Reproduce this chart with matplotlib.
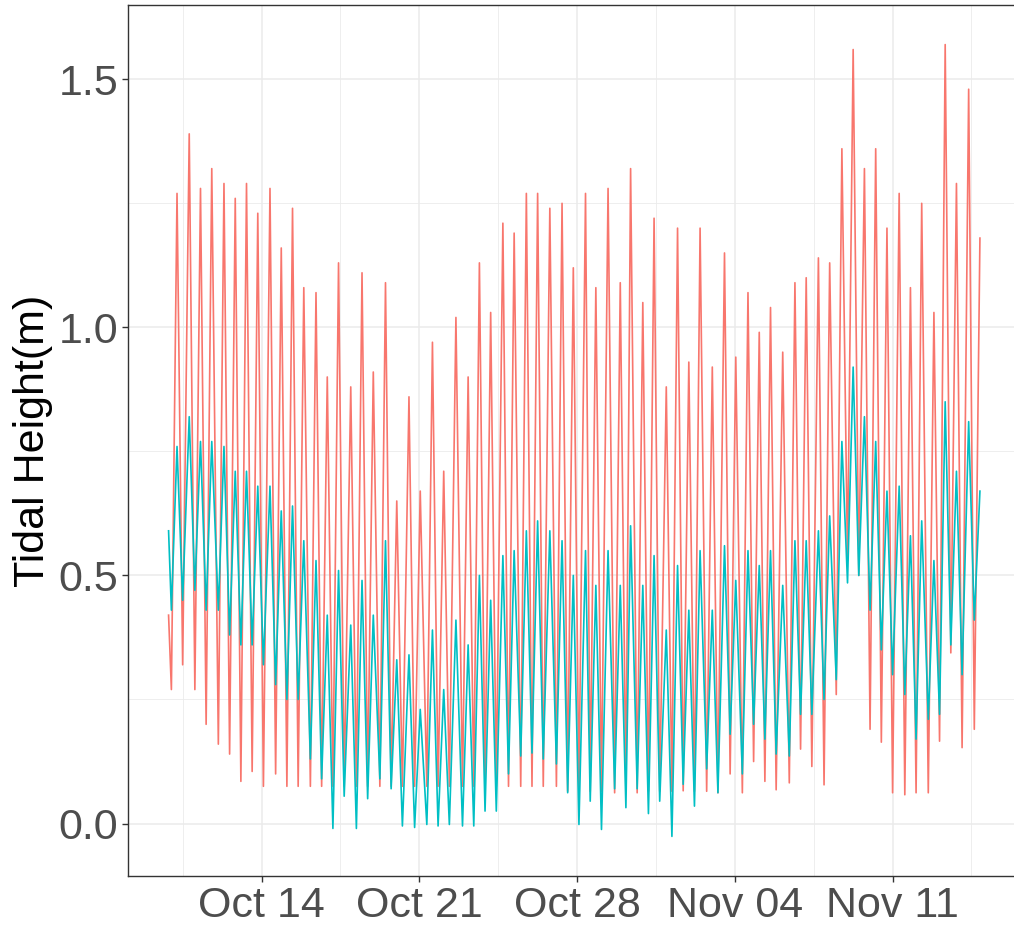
import matplotlib
matplotlib.use("Agg")
import matplotlib.pyplot as plt
import matplotlib.dates as mdates
import pandas as pd

plt.rcParams['font.family'] = ['Liberation Sans', 'DejaVu Sans']

# hours after 2019-10-10 00:00 of each high and low water
peak_hours = [6, 19, 31, 43, 56, 68, 80, 92, 105, 117,
              129, 141, 154, 166, 178, 191, 203, 215, 228, 240,
              253, 265, 278, 290, 303, 316, 328, 340, 353, 365,
              378, 390, 403, 416, 428, 441, 452, 465, 478, 489,
              502, 514, 527, 539, 551, 563, 576, 589, 601, 614,
              626, 638, 651, 664, 676, 689, 701, 714, 726, 738,
              750, 762, 775, 787, 799, 812, 824, 836, 849, 861]
low_hours = [0, 12, 25, 37, 50, 62, 74, 86, 98, 111,
             123, 135, 148, 160, 172, 184, 197, 209, 222, 234,
             246, 259, 272, 284, 296, 310, 322, 334, 346, 359,
             372, 384, 396, 410, 422, 434, 446, 458, 472, 484,
             496, 508, 520, 533, 545, 557, 570, 582, 595, 608,
             620, 632, 644, 658, 670, 682, 695, 708, 720, 732,
             744, 756, 768, 781, 793, 806, 818, 830, 842, 855]
first_hour = -3

# outer gauge (red)
red_first = 0.42
red_high = [1.27, 1.39, 1.28, 1.32, 1.29, 1.26, 1.29, 1.23, 1.28, 1.16,
            1.24, 1.08, 1.07, 0.90, 1.13, 0.88, 1.11, 0.91, 1.09, 0.65,
            0.86, 0.67, 0.97, 0.71, 1.02, 0.90, 1.13, 1.03, 1.21, 1.19,
            1.27, 1.27, 1.24, 1.25, 1.12, 1.27, 1.08, 1.28, 1.09, 1.32,
            1.05, 1.22, 0.88, 1.20, 0.93, 1.20, 0.92, 1.15, 0.94, 1.07,
            0.99, 1.04, 0.95, 1.09, 1.10, 1.14, 1.13, 1.36, 1.56, 1.32,
            1.36, 1.20, 1.27, 1.08, 1.25, 1.03, 1.57, 1.29, 1.48, 1.18]
red_low = [0.27, 0.32, 0.27, 0.20, 0.16, 0.14, 0.085, 0.105, 0.075, 0.10,
           0.075, 0.075, 0.075, 0.075, 0.075, 0.075, 0.075, 0.075, 0.075, 0.075,
           0.075, 0.075, 0.075, 0.075, 0.075, 0.075, 0.075, 0.075, 0.075, 0.075,
           0.075, 0.075, 0.075, 0.075, 0.065, 0.065, 0.065, 0.065, 0.062, 0.065,
           0.062, 0.065, 0.065, 0.065, 0.066, 0.065, 0.065, 0.062, 0.10, 0.062,
           0.125, 0.085, 0.068, 0.082, 0.15, 0.115, 0.078, 0.26, 0.53, 0.50,
           0.19, 0.164, 0.062, 0.058, 0.062, 0.062, 0.166, 0.344, 0.153, 0.19]

# inner gauge (teal)
teal_first = 0.59
teal_high = [0.76, 0.82, 0.77, 0.77, 0.76, 0.71, 0.71, 0.68, 0.68, 0.63,
             0.64, 0.57, 0.53, 0.42, 0.51, 0.40, 0.49, 0.42, 0.57, 0.33,
             0.34, 0.23, 0.39, 0.27, 0.41, 0.36, 0.50, 0.45, 0.54, 0.55,
             0.59, 0.61, 0.59, 0.57, 0.50, 0.55, 0.48, 0.55, 0.48, 0.60,
             0.48, 0.54, 0.39, 0.52, 0.43, 0.55, 0.43, 0.56, 0.49, 0.55,
             0.52, 0.55, 0.48, 0.57, 0.57, 0.59, 0.62, 0.77, 0.92, 0.82,
             0.77, 0.67, 0.68, 0.58, 0.61, 0.53, 0.85, 0.71, 0.81, 0.67]
teal_low = [0.43, 0.45, 0.47, 0.43, 0.43, 0.38, 0.36, 0.36, 0.32, 0.28,
            0.25, 0.25, 0.13, 0.09, -0.01, 0.055, -0.01, 0.05, 0.09, 0.07,
            -0.005, -0.008, -0.002, -0.005, -0.002, -0.005, -0.005, 0.025, 0.025, 0.10,
            0.136, 0.142, 0.13, 0.12, 0.062, -0.002, 0.045, -0.012, 0.07, 0.032,
            0.07, 0.02, 0.045, -0.026, 0.079, 0.035, 0.11, 0.062, 0.18, 0.10,
            0.20, 0.17, 0.14, 0.136, 0.22, 0.22, 0.25, 0.29, 0.485, 0.50,
            0.43, 0.35, 0.30, 0.26, 0.17, 0.21, 0.22, 0.36, 0.30, 0.41]

start = pd.Timestamp("2019-10-10 00:00")


def series(first, lows, highs):
    hours = [first_hour]
    vals = [first]
    for lh, lv, ph, pv in zip(low_hours, lows, peak_hours, highs):
        hours += [lh, ph]
        vals += [lv, pv]
    times = start + pd.to_timedelta(hours, unit="h")
    return times, vals


t, red = series(red_first, red_low, red_high)
_, teal = series(teal_first, teal_low, teal_high)

fig = plt.figure(figsize=(10.14, 9.26), dpi=100)
ax = fig.add_axes([128 / 1014, 50 / 926, 892.5 / 1014, 871 / 926])

ax.plot(t, red, color="#F8766D", lw=1.2)
ax.plot(t, teal, color="#00BFC4", lw=1.2)

# ggplot-style 5% padding
span = t[-1] - t[0]
ax.set_xlim(t[0] - 0.05 * span, t[-1] + 0.05 * span)
lo = min(min(red), min(teal))
hi = max(max(red), max(teal))
ax.set_ylim(lo - 0.05 * (hi - lo), hi + 0.05 * (hi - lo))

ax.xaxis.set_major_locator(mdates.WeekdayLocator(byweekday=mdates.MO))
ax.xaxis.set_major_formatter(mdates.DateFormatter("%b %d"))
minor = pd.date_range("2019-10-10 12:00", periods=6, freq="7D")
ax.set_xticks(mdates.date2num(minor), minor=True)
ax.set_yticks([0.0, 0.5, 1.0, 1.5])
ax.set_yticklabels(["0.0", "0.5", "1.0", "1.5"])
ax.set_yticks([0.25, 0.75, 1.25], minor=True)

ax.tick_params(which="major", length=4, width=1, color="#333333",
               labelsize=31, labelcolor="#4D4D4D", pad=3)
ax.tick_params(which="minor", length=0)

ax.grid(which="major", color="#EBEBEB", lw=1.1)
ax.grid(which="minor", color="#EBEBEB", lw=0.6)
ax.set_axisbelow(True)
for s in ax.spines.values():
    s.set_color("#333333")
    s.set_linewidth(1.0)

ax.set_ylabel("Tidal Height(m)", fontsize=31, color="black", labelpad=4)

fig.savefig("out.png", dpi=100)
